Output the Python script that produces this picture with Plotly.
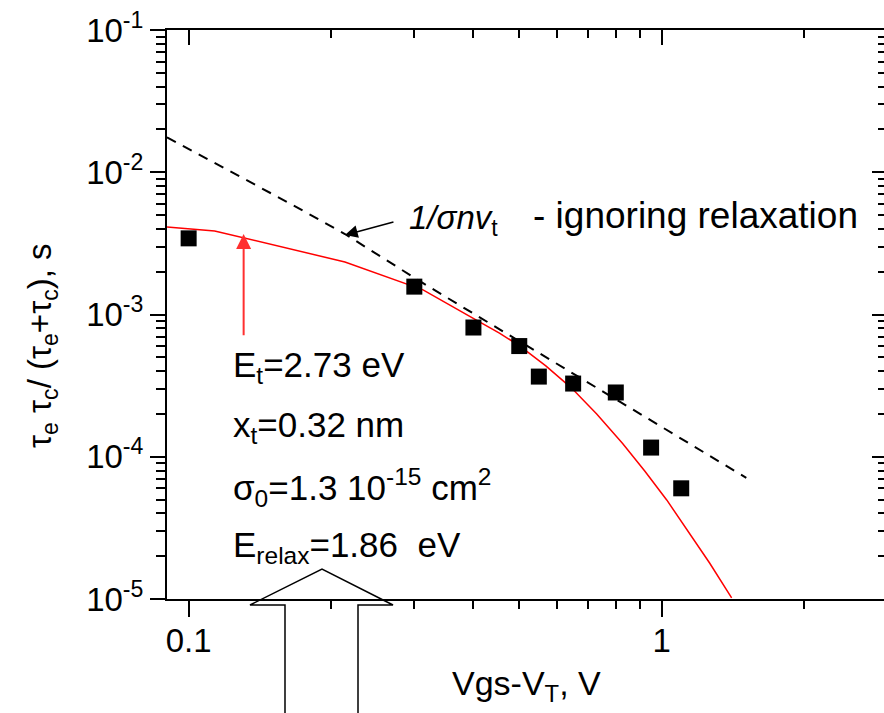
import numpy as np
import plotly.graph_objects as go

# Measured trap time constant vs gate overdrive
vgs = [0.1, 0.3, 0.4, 0.5, 0.55, 0.65, 0.8, 0.95, 1.1]
tau = [3.43e-3, 1.57e-3, 8.1e-4, 6.0e-4, 3.66e-4, 3.27e-4, 2.83e-4, 1.16e-4, 6.0e-5]

# Model including lattice relaxation
model_x = [0.09, 0.1135, 0.214, 0.313, 0.398, 0.454, 0.501, 0.569, 0.645, 0.729,
           0.827, 0.921, 1.025, 1.146, 1.263, 1.406]
model_y = [4.13e-3, 3.87e-3, 2.34e-3, 1.49e-3, 9.46e-4, 7.41e-4, 6.01e-4, 4.35e-4,
           3.04e-4, 2.00e-4, 1.24e-4, 7.94e-5, 4.97e-5, 2.91e-5, 1.79e-5, 1.02e-5]

# 1/(sigma n v_t) without relaxation
norelax_x = [0.09, 0.163, 0.214, 0.313, 0.912, 1.51]
norelax_y = [0.0176, 6.08e-3, 3.68e-3, 1.66e-3, 1.95e-4, 7.1e-5]

y_tickvals = [1e-5, 1e-4, 1e-3, 1e-2, 1e-1]
y_ticktext = ["10<sup>-5</sup>", "10<sup>-4</sup>", "10<sup>-3</sup>", "10<sup>-2</sup>", "10<sup>-1</sup>"]
x_tickvals = [0.1, 1]
x_ticktext = ["0.1", "1"]

params = [
    "E<sub>t</sub>=2.73 eV",
    "x<sub>t</sub>=0.32 nm",
    "σ<sub>0</sub>=1.3 10<sup>-15</sup> cm<sup>2</sup>",
    "E<sub>relax</sub>=1.86\u00a0\u00a0eV",
]

W, H = 884, 713
ML, MR, MT, MB = 167, 0, 30, 114
PW, PH = W - ML - MR, H - MT - MB
FONT = "Arial, Liberation Sans, sans-serif"


def px(xp):
    return (xp - ML) / PW


def py(yp):
    return 1 - (yp - MT) / PH


fig = go.Figure()

fig.add_trace(go.Scatter(
    x=norelax_x, y=norelax_y, mode="lines",
    line=dict(color="black", width=2, dash="10px,8px"), showlegend=False))
fig.add_trace(go.Scatter(
    x=model_x, y=model_y, mode="lines",
    line=dict(color="#ff0000", width=1.5), showlegend=False))
fig.add_trace(go.Scatter(
    x=vgs, y=tau, mode="markers",
    marker=dict(symbol="square", size=16, color="black"), showlegend=False))
# empty trace to host the mirrored top/right axes
fig.add_trace(go.Scatter(x=[], y=[], xaxis="x2", yaxis="y2", showlegend=False, hoverinfo="skip"))

xr = [np.log10(0.09), np.log10(0.09) + PW / 473.0]
yr = [-5, -1]

axis_common = dict(type="log", showgrid=False, zeroline=False, linecolor="black",
                   linewidth=2, tickcolor="black", tickwidth=2)

fig.update_layout(
    width=W, height=H,
    margin=dict(l=ML, r=MR, t=MT, b=MB),
    paper_bgcolor="white", plot_bgcolor="white",
    font=dict(family=FONT, color="black", size=32),
    xaxis=dict(**axis_common, range=xr, showline=True, ticks="outside", ticklen=16,
               tickvals=x_tickvals, ticktext=x_ticktext, ticklabelstandoff=-5,
               tickfont=dict(size=33, family=FONT),
               minor=dict(ticks="outside", ticklen=8, tickwidth=2, tickcolor="black",
                          dtick="D1", showgrid=False)),
    yaxis=dict(**axis_common, range=yr, showline=True, ticks="outside", ticklen=15,
               tickvals=y_tickvals, ticktext=y_ticktext,
               tickfont=dict(size=33, family=FONT),
               minor=dict(ticks="outside", ticklen=9, tickwidth=2, tickcolor="black",
                          dtick="D1", showgrid=False)),
    xaxis2=dict(**axis_common, range=xr, overlaying="x", side="top", showline=True,
                ticks="inside", ticklen=15, tickvals=x_tickvals, showticklabels=False,
                minor=dict(ticks="inside", ticklen=8, tickwidth=2, tickcolor="black",
                           dtick="D1", showgrid=False)),
    yaxis2=dict(**axis_common, range=yr, overlaying="y", side="right", showline=False,
                ticks="inside", ticklen=12, tickvals=y_tickvals, showticklabels=False,
                minor=dict(ticks="inside", ticklen=6, tickwidth=2, tickcolor="black",
                           dtick="D1", showgrid=False)),
)

ann = []
# axis titles
ann.append(dict(text="τ<sub>e</sub> τ<sub>c</sub>/ (τ<sub>e</sub>+τ<sub>c</sub>), s",
                xref="paper", yref="paper", x=px(42), y=py(345), textangle=-90,
                showarrow=False, xanchor="center", yanchor="middle", font=dict(size=33)))
ann.append(dict(text="Vgs-V<sub>T</sub>, V", xref="paper", yref="paper",
                x=px(526), y=py(686), showarrow=False, xanchor="center", yanchor="middle",
                font=dict(size=34)))
# parameter block
for i, t in enumerate(params):
    ann.append(dict(text=t, xref="paper", yref="paper", x=px(231), y=py(367 + 60 * i),
                    showarrow=False, xanchor="left", yanchor="middle", font=dict(size=35)))
# curve label
ann.append(dict(text="<i>1/σnv</i><sub>t</sub>", xref="paper", yref="paper",
                x=px(407), y=py(220), showarrow=False, xanchor="left", yanchor="middle",
                font=dict(size=33)))
ann.append(dict(text="- ignoring relaxation", xref="paper", yref="paper",
                x=px(531), y=py(216), showarrow=False, xanchor="left", yanchor="middle",
                font=dict(size=37)))
# pointer to the dashed curve
ann.append(dict(x=np.log10(0.214), y=np.log10(3.62e-3), ax=np.log10(0.273), ay=np.log10(4.5e-3),
                xref="x", yref="y", axref="x", ayref="y", text="", showarrow=True,
                arrowhead=2, arrowsize=1.7, arrowwidth=1.5, arrowcolor="black"))
# red arrow marking the relaxation region
ann.append(dict(x=np.log10(0.1307), y=np.log10(3.68e-3), ax=np.log10(0.1307), ay=np.log10(6.97e-4),
                xref="x", yref="y", axref="x", ayref="y", text="", showarrow=True,
                arrowhead=2, arrowsize=1.5, arrowwidth=2, arrowcolor="#ff3030"))
fig.update_layout(annotations=ann)

# open block arrow below the axis
pts = [(285, 720), (285, 605), (250, 605), (322, 569), (393, 605), (358, 605), (358, 720)]
path = "M " + " L ".join(f"{px(a):.5f},{py(b):.5f}" for a, b in pts)
fig.add_shape(type="path", path=path, xref="paper", yref="paper",
              line=dict(color="black", width=1.5), fillcolor="rgba(0,0,0,0)", layer="above")

fig.write_html("out.html")
